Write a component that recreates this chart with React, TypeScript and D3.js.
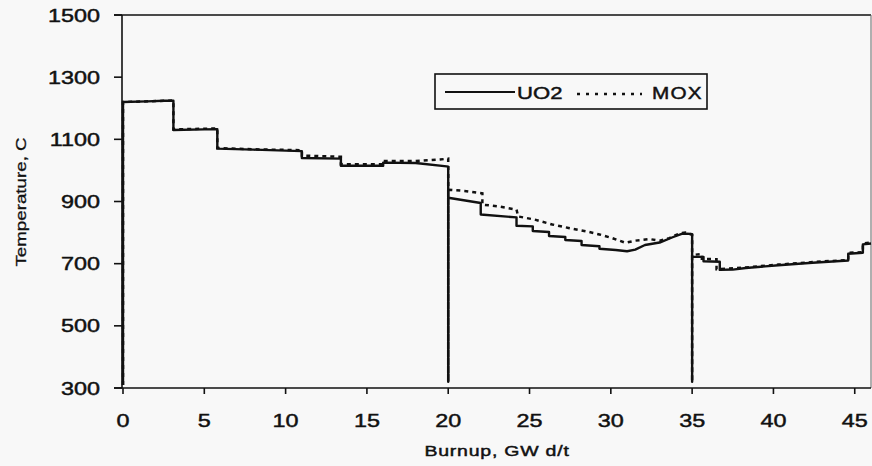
import React from "react";
import * as d3 from "d3";

// Fuel centreline temperature vs burnup, three irradiation cycles
const uo2Burnup = [0, 0, 1.5, 2.5, 3.1, 3.1, 5.0, 5.8, 5.8, 8.0, 11.0, 11.0, 13.4, 13.4, 16.0, 16.0, 18.0, 19.9, 20, 20, 20, 22.0, 22.0, 24.2, 24.2, 25.2, 25.2, 26.2, 26.2, 27.2, 27.2, 28.2, 28.2, 29.3, 29.3, 30.3, 31.0, 31.5, 32.1, 33.0, 33.8, 34.4, 34.9, 35, 35, 35, 35.7, 35.7, 36.7, 36.7, 37.5, 38.3, 40.3, 42.4, 44.6, 44.6, 45.5, 45.5, 46];
const uo2Temp = [310, 1220, 1222, 1224, 1224, 1130, 1132, 1133, 1070, 1067, 1062, 1040, 1038, 1015, 1015, 1025, 1024, 1013, 1012, 320, 912, 895, 858, 849, 822, 820, 805, 802, 789, 786, 776, 773, 760, 756, 748, 744, 740, 745, 760, 768, 785, 797, 796, 795, 320, 722, 722, 708, 706, 680, 681, 686, 695, 703, 710, 732, 735, 762, 765];

const moxBurnup = [0, 0, 3.1, 3.1, 5.8, 5.8, 8.0, 11.0, 11.0, 13.4, 13.4, 16.0, 16.0, 18.0, 19.5, 20, 20, 20, 21.0, 22.1, 22.1, 23.1, 24.2, 24.3, 25.3, 26.4, 27.4, 28.5, 29.3, 30.1, 30.9, 31.5, 32.4, 33.0, 33.6, 34.2, 34.6, 35, 35, 35, 35.6, 35.6, 36.5, 36.5, 38.3, 40.3, 42.4, 44.6, 44.6, 45.5, 45.5, 46];
const moxTemp = [310, 1220, 1225, 1132, 1135, 1072, 1068, 1065, 1048, 1044, 1020, 1020, 1030, 1030, 1035, 1038, 320, 938, 934, 926, 890, 884, 874, 852, 842, 826, 815, 804, 794, 782, 767, 774, 779, 774, 782, 797, 800, 793, 320, 728, 731, 716, 714, 682, 688, 697, 705, 712, 735, 737, 765, 768];

const xTicks = [0, 5, 10, 15, 20, 25, 30, 35, 40, 45];
const yTicks = [300, 500, 700, 900, 1100, 1300, 1500];
const seriesNames = ["UO2", "MOX"];

const W = 872;
const H = 466;
const left = 123;
const right = 871;
const top = 15;
const bottom = 388;
const font = "'Liberation Sans', Arial, Helvetica, sans-serif";
const ink = "#111";
const bg = "#f8f8f8";

export default function App() {
  const x = d3.scaleLinear().domain([0, 46]).range([left, right]);
  const y = d3.scaleLinear().domain([300, 1500]).range([bottom, top]);

  const uo2Line = d3
    .line<number>()
    .x((i) => x(uo2Burnup[i]))
    .y((i) => y(uo2Temp[i]));
  const moxLine = d3
    .line<number>()
    .x((i) => x(moxBurnup[i]))
    .y((i) => y(moxTemp[i]));

  const uo2Path = uo2Line(d3.range(uo2Burnup.length)) || "";
  const moxPath = moxLine(d3.range(moxBurnup.length)) || "";

  const textStyle = { stroke: ink, strokeWidth: 0.45 };

  return (
    <svg
      width={W}
      height={H}
      style={{ position: "absolute", left: 0, top: 0, background: bg }}
    >
      <rect x={0} y={0} width={W} height={H} fill={bg} />

      {/* frame */}
      <line x1={left - 9} x2={right} y1={top} y2={top} stroke={ink} strokeWidth={1.6} />
      <line x1={right} x2={right} y1={top} y2={bottom} stroke="#666" strokeWidth={1} />
      <line x1={left - 1} x2={left - 1} y1={top} y2={bottom} stroke={ink} strokeWidth={1.6} />
      <line x1={left - 9} x2={right} y1={bottom} y2={bottom} stroke={ink} strokeWidth={1.6} />

      {/* y axis */}
      {yTicks.map((t) => (
        <g key={"y" + t}>
          <line x1={left - 9} x2={left - 1} y1={y(t)} y2={y(t)} stroke={ink} strokeWidth={1.6} />
          <text
            transform={`translate(${left - 23},${y(t) + 6.5}) scale(1.3,1)`}
            textAnchor="end"
            fontFamily={font}
            fontSize={18}
            fill={ink}
            style={textStyle}
          >
            {t}
          </text>
        </g>
      ))}

      {/* x axis */}
      {xTicks.map((t) => (
        <g key={"x" + t}>
          <line x1={x(t)} x2={x(t)} y1={bottom} y2={bottom + 6} stroke={ink} strokeWidth={1.6} />
          <text
            transform={`translate(${x(t)},${bottom + 39}) scale(1.3,1)`}
            textAnchor="middle"
            fontFamily={font}
            fontSize={18}
            fill={ink}
            style={textStyle}
          >
            {t}
          </text>
        </g>
      ))}

      <text
        transform={`translate(497,456) scale(1.3,1)`}
        textAnchor="middle"
        fontFamily={font}
        fontSize={15}
        letterSpacing={0.6}
        fill={ink}
        style={textStyle}
      >
        Burnup, GW d/t
      </text>
      <text
        transform={`translate(26,202) rotate(-90) scale(1.25,1)`}
        textAnchor="middle"
        fontFamily={font}
        fontSize={15}
        fill={ink}
        style={{ stroke: ink, strokeWidth: 0.3 }}
      >
        Temperature, C
      </text>

      {/* series */}
      <path d={moxPath} fill="none" stroke={ink} strokeWidth={2.5} strokeDasharray="4,4" />
      <path d={uo2Path} fill="none" stroke={ink} strokeWidth={2.4} strokeLinejoin="round" />

      {/* legend */}
      <rect x={435} y={74} width={272} height={35} fill={bg} stroke={ink} strokeWidth={1.6} />
      <line x1={445} x2={515} y1={92} y2={92} stroke={ink} strokeWidth={2} />
      <text
        transform="translate(517,98.5) scale(1.3,1)"
        fontFamily={font}
        fontSize={17}
        fill={ink}
        style={textStyle}
      >
        {seriesNames[0]}
      </text>
      <line x1={577} x2={642} y1={94} y2={94} stroke={ink} strokeWidth={2.6} strokeDasharray="3,6" />
      <text
        transform="translate(652,98.5) scale(1.22,1)"
        fontFamily={font}
        fontSize={17}
        letterSpacing={1}
        fill={ink}
        style={textStyle}
      >
        {seriesNames[1]}
      </text>
    </svg>
  );
}
